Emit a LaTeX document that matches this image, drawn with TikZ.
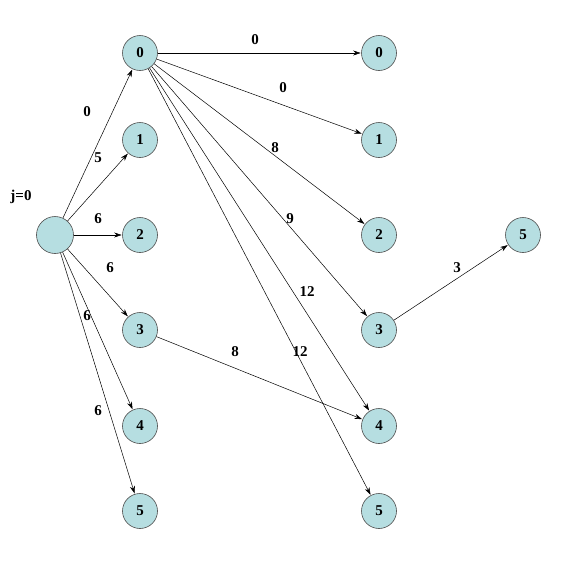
\documentclass[tikz,border=0pt]{standalone}
\usepackage{fontspec}
\setmainfont{Liberation Serif}
\usetikzlibrary{arrows.meta}
\definecolor{nodefill}{RGB}{182,222,225}
\tikzset{
  st/.style={circle,draw=black!70,fill=nodefill,line width=0.6pt,minimum size=35pt,inner sep=0pt,font=\fontsize{15}{17}\selectfont\bfseries},
  rootst/.style={st,minimum size=37pt},
  edge/.style={draw=black,line width=0.5pt,-{Stealth[length=7.5pt,width=5pt]},shorten >=0.5pt},
  lbl/.style={font=\fontsize{15}{17}\selectfont\bfseries,inner sep=0pt}
}
\begin{document}
\begin{tikzpicture}[x=1pt,y=-1pt]
\useasboundingbox (0,0) rectangle (578,576);
\node[rootst] (r) at (55,235) {};
\node[lbl] (j) at (21,197) {j=0};
\foreach \i/\y in {0/53,1/140,2/235,3/330,4/426,5/511}{
  \node[st] (a\i) at (140,\y) {\i};
  \node[st] (b\i) at (379,\y) {\i};
}
\node[st] (c5) at (523,235) {5};
% edges from root
\draw[edge] (r) -- (a0);
\draw[edge] (r) -- (a1);
\draw[edge] (r) -- (a2);
\draw[edge] (r) -- (a3);
\draw[edge] (r) -- (a4);
\draw[edge] (r) -- (a5);
\node[lbl] (l1) at (87,112) {0};
\node[lbl] (l2) at (98,158) {5};
\node[lbl] (l3) at (98,219) {6};
\node[lbl] (l4) at (110,268) {6};
\node[lbl] (l5) at (87,316) {6};
\node[lbl] (l6) at (98,411) {6};
% edges from a0
\draw[edge] (a0) -- (b0);
\draw[edge] (a0) -- (b1);
\draw[edge] (a0) -- (b2);
\draw[edge] (a0) -- (b3);
\draw[edge] (a0) -- (b4);
\draw[edge] (a0) -- (b5);
\node[lbl] (m1) at (255,40) {0};
\node[lbl] (m2) at (283,88) {0};
\node[lbl] (m3) at (275,148) {8};
\node[lbl] (m4) at (290,219) {9};
\node[lbl] (m5) at (307,292) {12};
\node[lbl] (m6) at (300,352) {12};
% other edges
\draw[edge] (a3) -- (b4);
\node[lbl] (n1) at (235,352) {8};
\draw[edge] (b3) -- (c5);
\node[lbl] (n2) at (457,268) {3};
\end{tikzpicture}
\end{document}
